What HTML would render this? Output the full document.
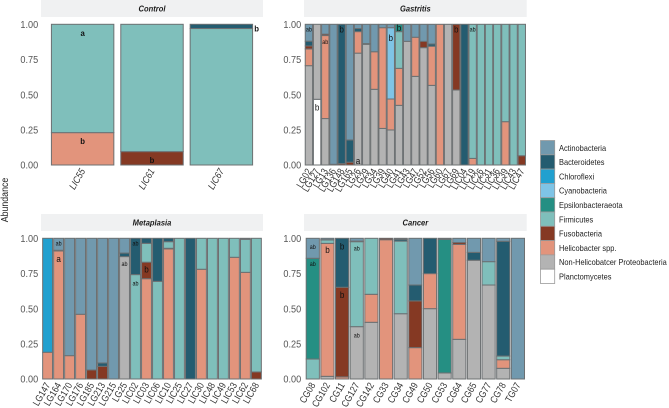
<!DOCTYPE html>
<html lang="en">
<head>
<meta charset="utf-8">
<title>Abundance by sample and stage</title>
<style>
html,body{margin:0;padding:0;background:#fff;width:669px;height:408px;overflow:hidden}
svg{display:block}
text{font-family:"Liberation Sans",sans-serif}
</style>
</head>
<body>
<svg id="chart" xmlns="http://www.w3.org/2000/svg" width="669" height="408" viewBox="0 0 669 408"></svg>
<script>
const seriesNames = ["Planctomycetes","Non-Helicobatcer Proteobacteria","Helicobacter spp.","Fusobacteria","Firmicutes","Epsilonbacteraeota","Cyanobacteria","Chloroflexi","Bacteroidetes","Actinobacteria"];
const seriesColors = ["#ffffff","#b3b3b3","#e2947c","#853923","#7fbfbb","#258f83","#7fc4e6","#21a0cf","#245c70","#7199ae"];
const legendOrder = ["Actinobacteria","Bacteroidetes","Chloroflexi","Cyanobacteria","Epsilonbacteraeota","Firmicutes","Fusobacteria","Helicobacter spp.","Non-Helicobatcer Proteobacteria","Planctomycetes"];
const yTicks = [0,0.25,0.5,0.75,1];
const yTickLabels = ["0.00","0.25","0.50","0.75","1.00"];

/* Control */
const controlSamples = ["LIC55","LIC61","LIC67"];
const controlHelico = [0.23,0,0];
const controlFuso = [0,0.095,0];
const controlFirm = [0.77,0.905,0.97];
const controlBact = [0,0,0.03];

/* Gastritis */
const gastritisSamples = ["LG02","LG127","LG13","LG136","LG148","LG165","LG26","LG29","LG34","LG39","LG40","LG41","LG43","LG47","LG52","LG56","LG60","LG67","LG69","LIC04","LIC19","LIC26","LIC31","LIC36","LIC39","LIC43","LIC47"];
const gastritisPlancto = [0,0.467,0,0,0,0,0,0,0,0,0,0,0,0,0,0,0,0,0,0,0,0,0,0,0,0,0];
const gastritisGray = [0.706,0.533,0.33,0,0,0,0.795,0.858,0.538,0.26,0.249,0.424,0.879,0.63,0.834,0.566,0,1,0.533,0,0,0,0,0,0,0,0];
const gastritisHelico = [0.119,0,0.59,0,0,0,0.153,0,0.267,0.716,0.22,0.263,0,0.278,0,0.278,1,0,0,0,0.047,0,0,0,0.308,0,0];
const gastritisFuso = [0.021,0,0.01,0,0.01,0.02,0,0,0,0,0,0,0,0,0.045,0,0,0,0.467,0,0,0,0,0,0,0,0.066];
const gastritisFirm = [0,0,0,0,0,0,0,0,0,0,0,0.261,0,0,0,0,0,0,0,0,0.953,1,1,1,0.692,1,0.934];
const gastritisEps = [0,0,0,0,0,0,0,0,0,0,0,0.052,0,0,0,0,0,0,0,0,0,0,0,0,0,0,0];
const gastritisCyano = [0,0,0,0,0,0,0,0,0,0,0.507,0,0,0,0,0,0,0,0,0,0,0,0,0,0,0,0];
const gastritisBact = [0.034,0,0,0.005,0.99,0.158,0.022,0.005,0,0,0,0,0,0,0,0.016,0,0,0,1,0,0,0,0,0,0,0];
const gastritisActino = [0.12,0,0.07,0.995,0,0.822,0.03,0.137,0.195,0.024,0.024,0,0.121,0.092,0.121,0.14,0,0,0,0,0,0,0,0,0,0,0];

/* Metaplasia */
const metaplasiaSamples = ["LG147","LG164","LG170","LG176","LG185","LG213","LG215","LG25","LIC02","LIC03","LIC06","LIC10","LIC25","LIC27","LIC30","LIC48","LIC49","LIC53","LIC62","LIC68"];
const metaplasiaGray = [0,0,0,0,0,0,0,0.87,0,0,0,0,0,0,0,0,0,0,0,0];
const metaplasiaHelico = [0.19,0.91,0.166,0.46,0,0,0,0,0,0.713,0,0.925,0,0,0.78,0,0,0.865,0.758,0];
const metaplasiaFuso = [0,0,0,0,0.064,0.09,0,0,0,0.117,0,0.004,0,0,0,0,0,0,0,0.05];
const metaplasiaFirm = [0,0,0,0,0,0,0,0,0.742,0.134,0.694,0.047,1,0,0.22,1,1,0.135,0.235,0.95];
const metaplasiaChloro = [0.81,0,0,0,0,0,0,0,0,0,0,0,0,0,0,0,0,0,0,0];
const metaplasiaBact = [0,0.005,0,0,0,0.024,0,0.025,0.258,0.036,0.306,0.024,0,1,0,0,0,0,0.007,0];
const metaplasiaActino = [0,0.085,0.834,0.54,0.936,0.886,1,0.105,0,0,0,0,0,0,0,0,0,0,0,0];

/* Cancer */
const cancerSamples = ["CG08","CG102","CG11","CG127","CG142","CG33","CG34","CG49","CG50","CG53","CG64","CG65","CG77","CG78","TG07"];
const cancerGray = [0,0.019,0,0.372,0.403,0,0.464,0,0.5,0.043,0.282,0.844,0.668,0.076,0];
const cancerHelico = [0,0.945,0.015,0,0.199,0.99,0,0.223,0.249,0,0.675,0,0,0.061,0];
const cancerFuso = [0,0,0.637,0,0,0.01,0,0.332,0,0,0.013,0,0,0,0];
const cancerFirm = [0.142,0.024,0,0.604,0.398,0,0.516,0,0,0,0,0,0.166,0.026,0];
const cancerEps = [0.716,0,0,0,0,0,0,0,0,0.95,0,0,0,0,0];
const cancerBact = [0,0.002,0.348,0.004,0,0,0.013,0.113,0.251,0.007,0,0.056,0,0.816,0];
const cancerActino = [0.142,0.01,0,0.02,0,0,0.007,0.332,0,0,0.03,0.1,0.166,0.021,1];

/* Significance letters: sample index */
const controlLetterBars = [0,0,1,2];
const controlLetterLevels = [0.94,0.17,0.035,0.97];
const controlLetterText = ["a","b","b","b"];
const gastritisLetterBars = [0,1,2,4,6,10,11,18,20];
const gastritisLetterLevels = [0.965,0.41,0.875,0.965,0.03,0.905,0.975,0.965,0.965];
const gastritisLetterText = ["ab","b","ab","b","a","b","b","b","ab"];
const metaplasiaLetterBars = [1,1,7,8,8,9];
const metaplasiaLetterLevels = [0.965,0.855,0.82,0.965,0.68,0.78];
const metaplasiaLetterText = ["ab","a","ab","ab","ab","b"];
const cancerLetterBars = [0,0,1,2,2,3,3];
const cancerLetterLevels = [0.94,0.82,0.92,0.945,0.6,0.93,0.31];
const cancerLetterText = ["ab","ab","b","b","b","ab","ab"];

const NS = "http://www.w3.org/2000/svg";
const svg = document.getElementById("chart");
function make(tag, attrs, parent, txt){
  const e = document.createElementNS(NS, tag);
  for (const k in attrs) e.setAttribute(k, attrs[k]);
  if (txt !== undefined) e.textContent = txt;
  (parent || svg).appendChild(e);
  return e;
}
function place(x, y, rot, sx){
  return "translate(" + x + " " + y + ") rotate(" + rot + ") scale(" + sx + " 1)";
}
function slug(s){ return s.toLowerCase().replace(/[^a-z0-9]+/g,"-"); }

function drawPanel(p){
  const g = make("g", {});
  
  
  const strip = make("rect", {x:p.x0, y:p.top - 24.3, width:p.x1 - p.x0, height:17, fill:"#f0f1f2"}, g);
  
  
  const title = make("text", {transform:place((p.x0 + p.x1) / 2, p.top - 13, 0, 0.88), "text-anchor":"middle", "font-size":"8.6", "font-weight":"bold", "font-style":"italic", fill:"#1a1a1a"}, g, p.title);
  
  

  const n = p.samples.length;
  const step = (p.x1 - p.x0) / (n + 0.2);
  const xScale = i => p.x0 + (0.6 + i) * step;
  const yScale = v => p.bottom - v * (p.bottom - p.top);

  yTicks.forEach((t, i) => {
    const tick = make("text", {transform:place(p.x0 - 2.8, yScale(t) + 3.7, 0, 0.87), "text-anchor":"end", "font-size":"10.5", fill:"#555"}, g, yTickLabels[i]);
    
    
  });

  p.samples.forEach((s, i) => {
    const cx = xScale(i);
    let acc = 0;
    const bw = step * 0.9;
    p.series.forEach(sr => {
      const v = sr.values[i];
      if (!v) return;
      const idx = seriesNames.indexOf(sr.name);
      const r = make("rect", {x:cx - bw / 2, y:yScale(acc + v), width:bw, height:yScale(acc) - yScale(acc + v), fill:seriesColors[idx], stroke:"#6c7072", "stroke-width":"1"}, g);
      
      
      acc += v;
    });
    const lab = make("text", {transform:place(cx + 3, p.bottom + 6, -60, 0.85), "text-anchor":"end", "font-size":"9.8", "font-style":p.italicTicks ? "italic" : "normal", fill:"#333"}, g, s);
    
    
  });

  p.letterBars.forEach((b, i) => {
    const t = p.letterText[i];
    const small = t === "ab";
    const outside = p.title === "Control" && b === 2;
    const lx = outside ? xScale(b) + step * 0.45 + 4 : xScale(b);
    const size = small ? 6 : (p.title === "Control" ? 8.6 : 9);
    const lt = make("text", {transform:place(lx, yScale(p.letterLevels[i]) + size * 0.36, 0, 0.9), "text-anchor":"middle", "font-size":size, "font-weight":p.title === "Control" ? "bold" : "normal", fill:"#111"}, g, t);
    
    
  });
}

const panels = [
  {title:"Control", x0:41, x1:263, top:24.3, bottom:165, italicTicks:true, samples:controlSamples,
   letterBars:controlLetterBars, letterLevels:controlLetterLevels, letterText:controlLetterText,
   series:[{name:"Helicobacter spp.",values:controlHelico},{name:"Fusobacteria",values:controlFuso},{name:"Firmicutes",values:controlFirm},{name:"Bacteroidetes",values:controlBact}]},
  {title:"Gastritis", x0:304, x1:526.7, top:24.3, bottom:165, italicTicks:false, samples:gastritisSamples,
   letterBars:gastritisLetterBars, letterLevels:gastritisLetterLevels, letterText:gastritisLetterText,
   series:[{name:"Planctomycetes",values:gastritisPlancto},{name:"Non-Helicobatcer Proteobacteria",values:gastritisGray},{name:"Helicobacter spp.",values:gastritisHelico},{name:"Fusobacteria",values:gastritisFuso},{name:"Firmicutes",values:gastritisFirm},{name:"Epsilonbacteraeota",values:gastritisEps},{name:"Cyanobacteria",values:gastritisCyano},{name:"Bacteroidetes",values:gastritisBact},{name:"Actinobacteria",values:gastritisActino}]},
  {title:"Metaplasia", x0:41, x1:263, top:238.3, bottom:379, italicTicks:false, samples:metaplasiaSamples,
   letterBars:metaplasiaLetterBars, letterLevels:metaplasiaLetterLevels, letterText:metaplasiaLetterText,
   series:[{name:"Non-Helicobatcer Proteobacteria",values:metaplasiaGray},{name:"Helicobacter spp.",values:metaplasiaHelico},{name:"Fusobacteria",values:metaplasiaFuso},{name:"Firmicutes",values:metaplasiaFirm},{name:"Chloroflexi",values:metaplasiaChloro},{name:"Bacteroidetes",values:metaplasiaBact},{name:"Actinobacteria",values:metaplasiaActino}]},
  {title:"Cancer", x0:304, x1:526.7, top:238.3, bottom:379, italicTicks:false, samples:cancerSamples,
   letterBars:cancerLetterBars, letterLevels:cancerLetterLevels, letterText:cancerLetterText,
   series:[{name:"Non-Helicobatcer Proteobacteria",values:cancerGray},{name:"Helicobacter spp.",values:cancerHelico},{name:"Fusobacteria",values:cancerFuso},{name:"Firmicutes",values:cancerFirm},{name:"Epsilonbacteraeota",values:cancerEps},{name:"Bacteroidetes",values:cancerBact},{name:"Actinobacteria",values:cancerActino}]}
];
panels.forEach(drawPanel);

const yTitle = make("text", {"text-anchor":"middle", "font-size":"10", fill:"#222", transform:place(8, 200, -90, 0.88)}, svg, "Abundance");



const legend = make("g", {});


legendOrder.forEach((name, i) => {
  const y = 140.5 + i * 14.3;
  const sw = make("rect", {x:540.5, y:y, width:14.2, height:14.3, fill:seriesColors[seriesNames.indexOf(name)], stroke:"#9a9a9a", "stroke-width":"0.8"}, legend);
  
  
  const tx = make("text", {transform:place(559, y + 10.3, 0, 0.865), "font-size":"8.6", fill:"#222"}, legend, name);
  
  
});
</script>
</body>
</html>
